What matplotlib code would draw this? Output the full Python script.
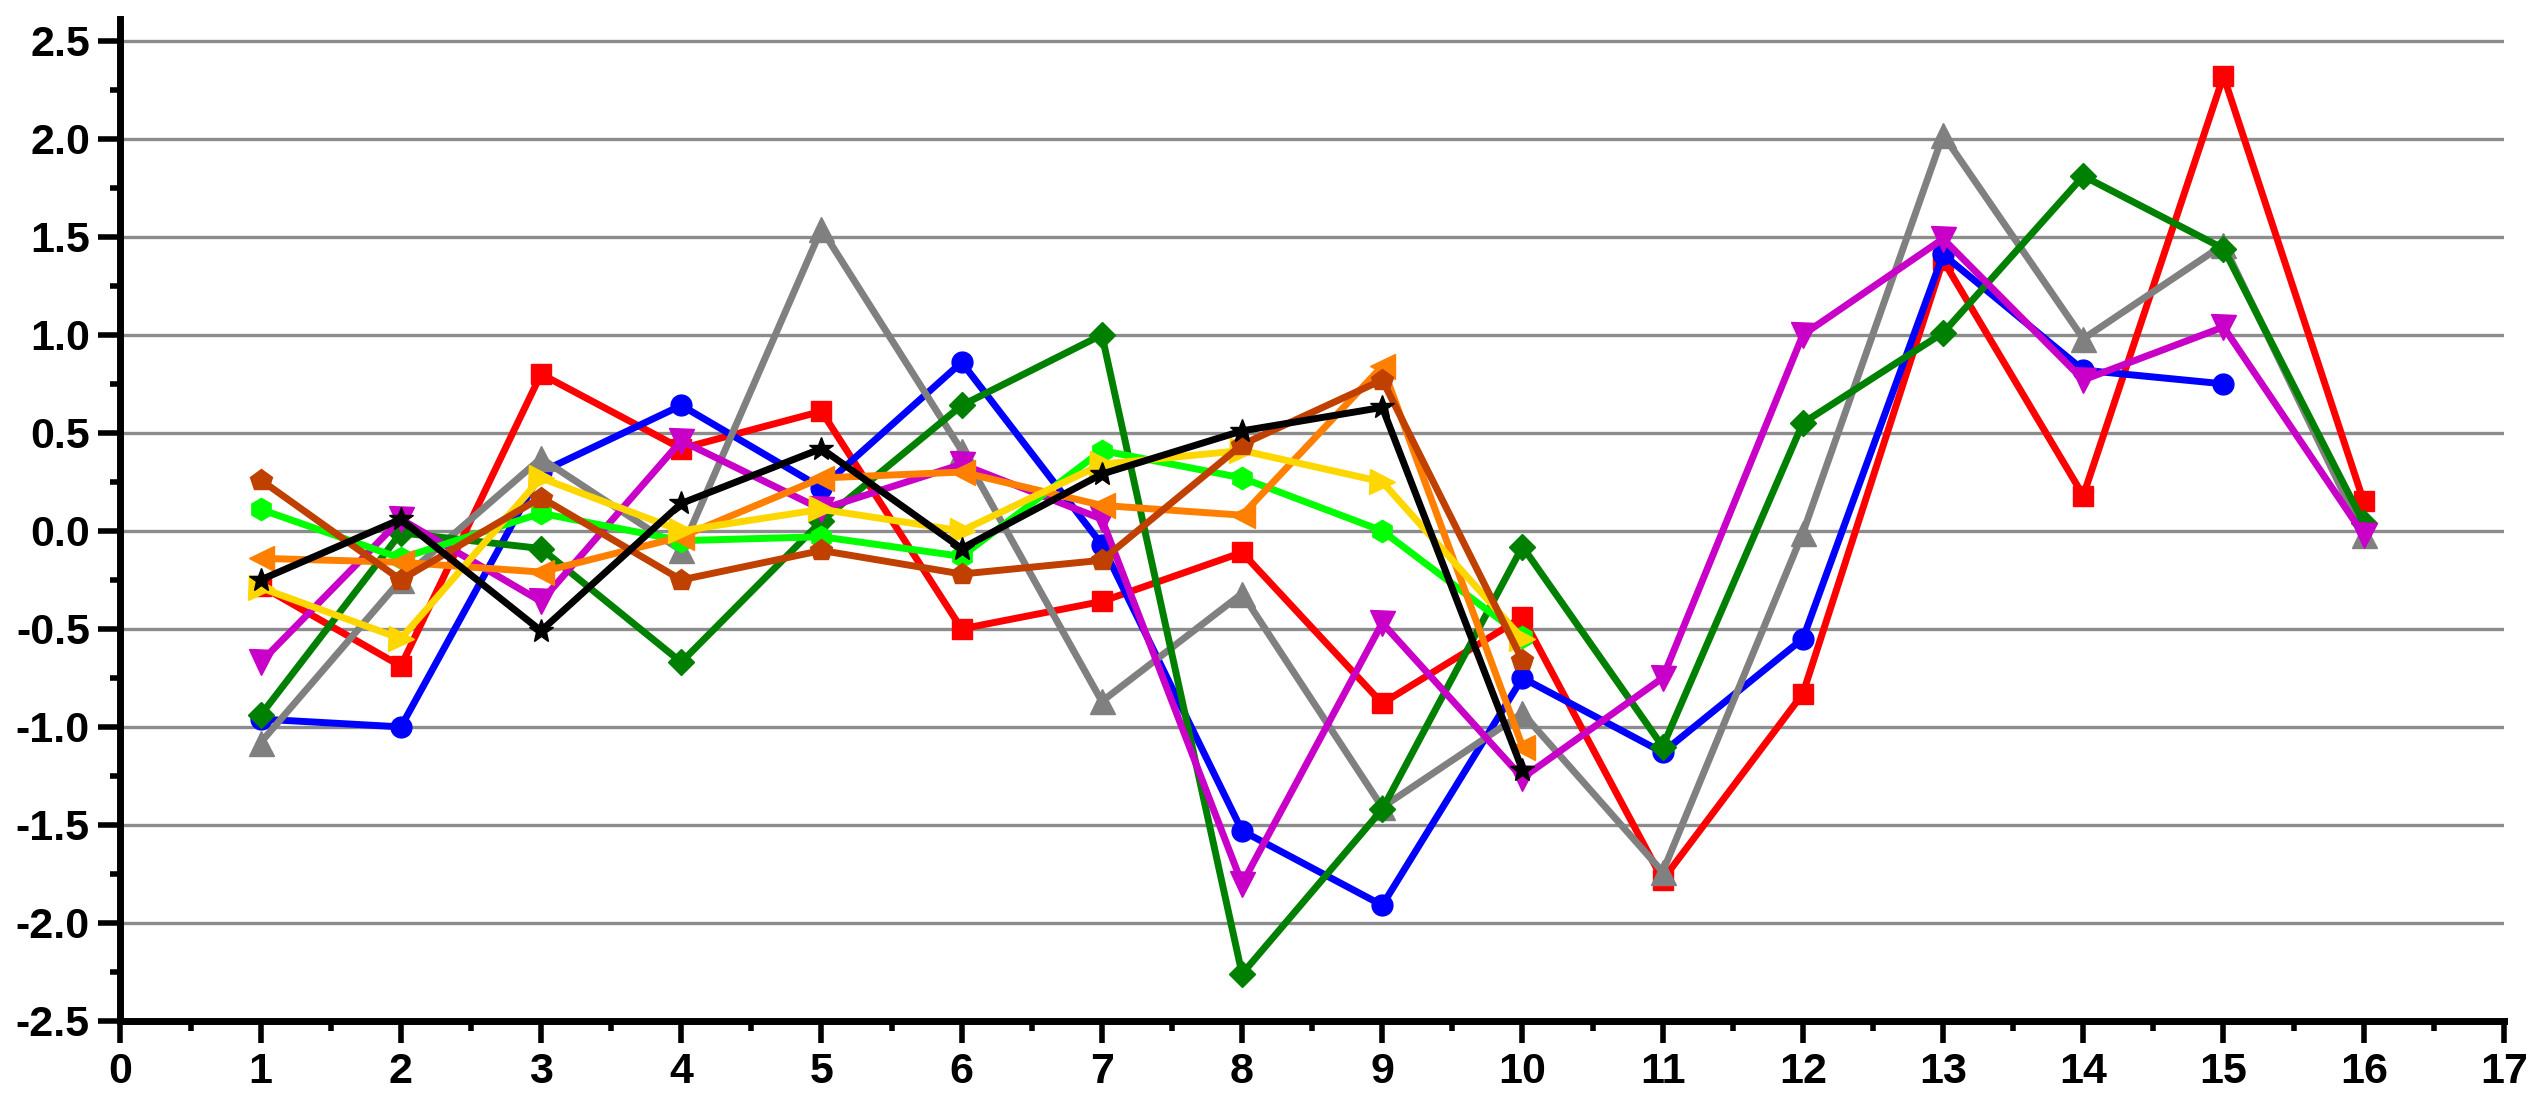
import matplotlib
matplotlib.use("Agg")
import matplotlib.pyplot as plt
from matplotlib.ticker import MultipleLocator, FormatStrFormatter

plt.rcParams['font.family'] = ['Liberation Sans Narrow', 'Liberation Sans', 'DejaVu Sans']
plt.rcParams['axes.unicode_minus'] = False

# data
x_full = list(range(1, 17))
x_15 = list(range(1, 16))
x_10 = list(range(1, 11))

red = [-0.28, -0.69, 0.80, 0.42, 0.61, -0.50, -0.36, -0.11, -0.88, -0.44, -1.78, -0.83, 1.38, 0.18, 2.32, 0.15]
blue = [-0.96, -1.00, 0.30, 0.64, 0.22, 0.86, -0.07, -1.53, -1.91, -0.75, -1.13, -0.55, 1.41, 0.82, 0.75]
gray = [-1.08, -0.25, 0.37, -0.10, 1.54, 0.41, -0.87, -0.32, -1.41, -0.93, -1.74, -0.01, 2.02, 0.98, 1.46, -0.02]
dgreen = [-0.94, -0.01, -0.09, -0.67, 0.05, 0.64, 1.00, -2.26, -1.42, -0.08, -1.10, 0.55, 1.01, 1.81, 1.44, 0.04]
magenta = [-0.67, 0.06, -0.36, 0.46, 0.11, 0.34, 0.06, -1.80, -0.47, -1.26, -0.75, 1.00, 1.49, 0.77, 1.04, -0.02]
lgreen = [0.11, -0.14, 0.09, -0.05, -0.03, -0.13, 0.41, 0.27, 0.00, -0.54]
orange = [-0.14, -0.16, -0.21, -0.03, 0.27, 0.30, 0.13, 0.08, 0.84, -1.10]
yellow = [-0.29, -0.55, 0.27, 0.00, 0.11, 0.00, 0.34, 0.41, 0.25, -0.55]
brown = [0.26, -0.25, 0.17, -0.25, -0.10, -0.22, -0.15, 0.44, 0.77, -0.66]
black = [-0.25, 0.06, -0.51, 0.14, 0.42, -0.09, 0.29, 0.51, 0.63, -1.22]

series = [
    (x_full, red, '#FF0000', 's', 15),
    (x_15, blue, '#0000FF', 'o', 15),
    (x_full, gray, '#808080', '^', 18),
    (x_full, dgreen, '#008000', 'D', 13),
    (x_full, magenta, '#C800C8', 'v', 18),
    (x_10, lgreen, '#00FF00', 'h', 16),
    (x_10, orange, '#FF8000', '<', 18),
    (x_10, yellow, '#FFD700', '>', 18),
    (x_10, brown, '#C04000', 'p', 16),
    (x_10, black, '#000000', '*', 18),
]

fig = plt.figure(figsize=(25.41, 11.18), dpi=100)
ax = fig.add_axes([0.0474, 0.0868, 0.938, 0.896])

for xs, ys, c, m, ms in series:
    ax.plot(xs, ys, color=c, marker=m, markersize=ms, linewidth=5,
            markeredgecolor=c, zorder=3)

ax.set_xlim(0, 17)
ax.set_ylim(-2.5, 2.61)

for v in [-2.0, -1.5, -1.0, -0.5, 0.0, 0.5, 1.0, 1.5, 2.0, 2.5]:
    ax.axhline(v, color='#8C8C8C', linewidth=2.4, zorder=1)

ax.spines['top'].set_visible(False)
ax.spines['right'].set_visible(False)
ax.spines['left'].set_linewidth(5)
ax.spines['bottom'].set_linewidth(5)

ax.xaxis.set_major_locator(MultipleLocator(1))
ax.xaxis.set_minor_locator(MultipleLocator(0.5))
ax.yaxis.set_major_locator(MultipleLocator(0.5))
ax.yaxis.set_minor_locator(MultipleLocator(0.25))
ax.yaxis.set_major_formatter(FormatStrFormatter('%.1f'))
ax.tick_params(which='major', direction='out', length=16, width=4)
ax.tick_params(which='minor', direction='out', length=7, width=4)
ax.tick_params(axis='both', labelsize=31, pad=6)
for lab in ax.get_xticklabels() + ax.get_yticklabels():
    lab.set_fontweight('bold')

fig.savefig('out.png', dpi=100)
